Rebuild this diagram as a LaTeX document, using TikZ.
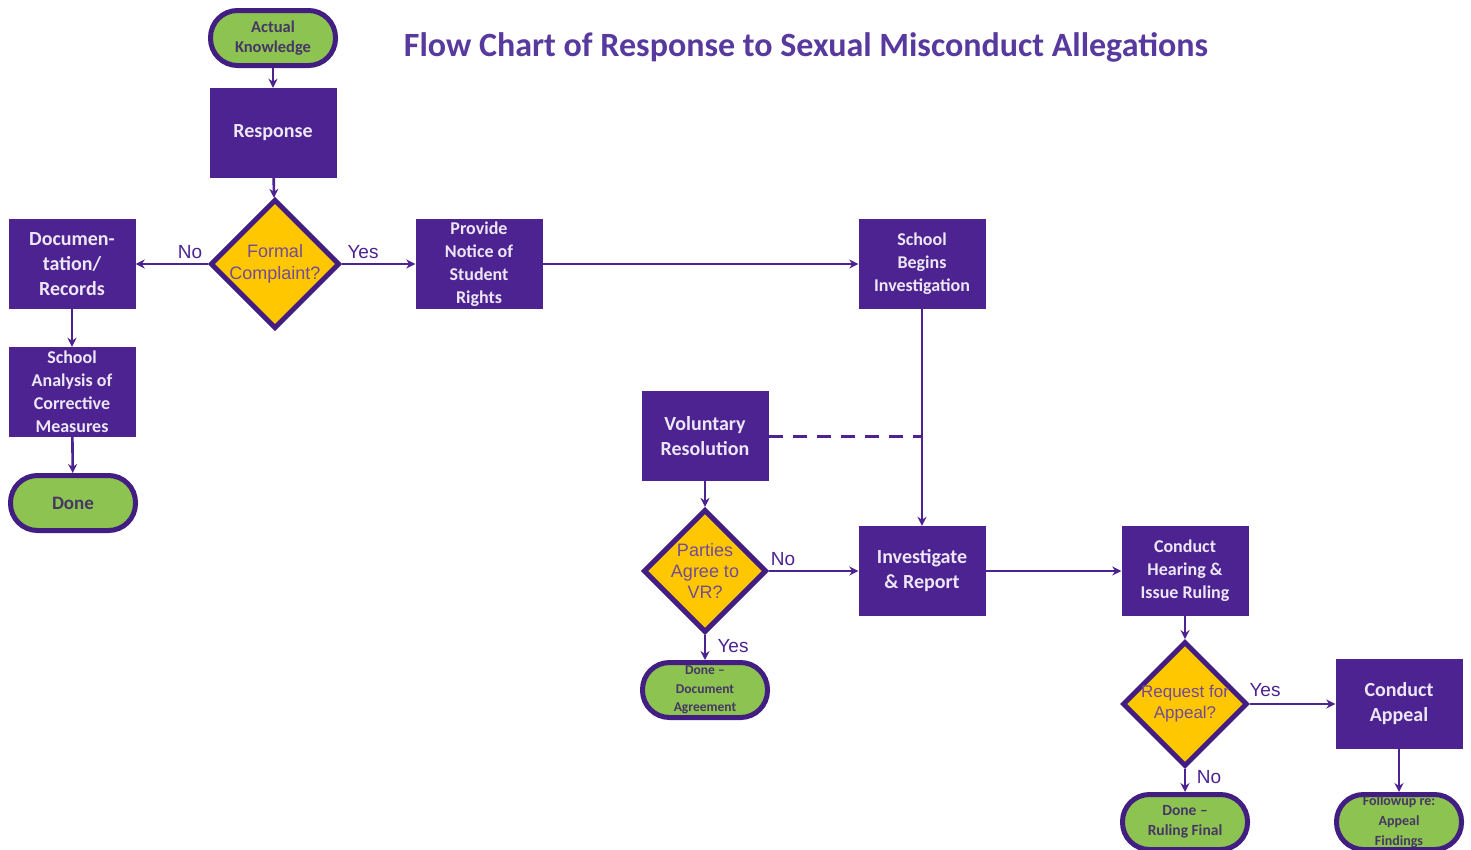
\documentclass[tikz,border=0pt]{standalone}
\usepackage{fontspec}
\setmainfont{Carlito}
\newfontfamily\arialf{Liberation Sans}
\usetikzlibrary{shapes.geometric,arrows.meta}
\definecolor{pboxc}{RGB}{76,35,145}
\definecolor{pdark}{RGB}{66,30,130}
\definecolor{gfill}{RGB}{141,195,80}
\definecolor{yfill}{RGB}{255,199,0}
\definecolor{btext}{RGB}{237,230,245}
\definecolor{gtext}{RGB}{70,55,100}
\definecolor{dtext}{RGB}{115,75,150}
\definecolor{titlec}{RGB}{88,58,158}
\tikzset{
  pbox/.style={rectangle, fill=pboxc, text=btext, align=center, minimum width=127pt, minimum height=90pt, inner sep=2pt, font=\bfseries\fontsize{20}{25}\selectfont},
  pboxs/.style={pbox, font=\bfseries\fontsize{18}{23}\selectfont},
  term/.style={rectangle, rounded corners=27pt, fill=gfill, draw=pdark, line width=5pt, text=gtext, align=center, minimum width=125pt, minimum height=55pt, inner sep=1pt, font=\bfseries\fontsize{16.5}{20}\selectfont},
  dec/.style={diamond, aspect=1, fill=yfill, draw=pdark, line width=5pt, text=dtext, align=center, minimum width=121pt, minimum height=123pt, inner sep=0pt, font=\arialf\fontsize{18}{21.5}\selectfont},
  conn/.style={draw=pboxc, line width=2.6pt, -{Stealth[length=9pt,width=9pt]}},
  lbl/.style={text=pboxc, font=\arialf\fontsize{19}{22}\selectfont, inner sep=1pt}
}
\begin{document}
\begin{tikzpicture}[x=1pt,y=-1pt]
\useasboundingbox (0,0) rectangle (1471,849);
\clip (0,0) rectangle (1471,849);
\fill[white] (0,0) rectangle (1471,849);
\node[text=titlec, font=\bfseries\fontsize{34}{38}\selectfont] (title) at (806,47) {Flow Chart of Response to Sexual Misconduct Allegations};
% nodes
\node[term] (ak) at (273,38) {Actual\\Knowledge};
\node[pbox] (resp) at (273,133) {Response};
\node[dec] (fc) at (275,264) {Formal\\Complaint?};
\node[pbox] (doc) at (72,264) {Documen-\\tation/\\Records};
\node[pboxs] (sa) at (72,392) {School\\Analysis of\\Corrective\\Measures};
\node[term, font=\bfseries\fontsize{19}{22}\selectfont] (done) at (73,503) {Done};
\node[pboxs] (pn) at (479,264) {Provide\\Notice of\\Student\\Rights};
\node[pboxs] (sbi) at (922,264) {School\\Begins\\Investigation};
\node[pbox] (vr) at (705,436) {Voluntary\\Resolution};
\node[dec, font=\arialf\fontsize{18}{21}\selectfont] (pa) at (705,571) {Parties\\Agree to\\VR?};
\node[pbox] (ir) at (922,571) {Investigate\\\& Report};
\node[pboxs] (ch) at (1185,571) {Conduct\\Hearing \&\\Issue Ruling};
\node[dec, font=\arialf\fontsize{17}{21}\selectfont] (ra) at (1185,704) {Request for\\Appeal?};
\node[pbox] (ca) at (1399,704) {Conduct\\Appeal};
\node[term, font=\bfseries\fontsize{13.5}{18.5}\selectfont] (dda) at (705,690) {Done --\\Document\\Agreement};
\node[term, font=\bfseries\fontsize{15.5}{20}\selectfont] (drf) at (1185,822) {Done --\\Ruling Final};
\node[term, font=\bfseries\fontsize{14}{20}\selectfont] (fu) at (1399,822) {Followup re:\\Appeal\\Findings};
% connectors
\draw[conn] (ak) -- (resp);
\draw[conn] (resp) -- (fc);
\draw[conn] (fc) -- (doc);
\draw[conn] (fc) -- (pn);
\draw[conn] (doc) -- (sa);
\draw[conn] (sa) -- (done);
\draw[conn] (pn) -- (sbi);
\draw[conn] (sbi) -- (ir);
\coordinate (vj) at (vr.east -| sbi.south);
\draw[draw=pboxc, line width=3pt, dash pattern=on 14pt off 10pt] (vr.east) -- (vj);
\draw[conn] (vr) -- (pa);
\draw[conn] (pa) -- (ir);
\draw[conn] (pa) -- (dda);
\draw[conn] (ir) -- (ch);
\draw[conn] (ch) -- (ra);
\draw[conn] (ra) -- (ca);
\draw[conn] (ra) -- (drf);
\draw[conn] (ca) -- (fu);
% labels
\node[lbl] (l1) at (190,252) {No};
\node[lbl] (l2) at (363,252) {Yes};
\node[lbl] (l3) at (783,559) {No};
\node[lbl] (l4) at (733,646) {Yes};
\node[lbl] (l5) at (1265,690) {Yes};
\node[lbl] (l6) at (1209,777) {No};
\end{tikzpicture}
\end{document}
